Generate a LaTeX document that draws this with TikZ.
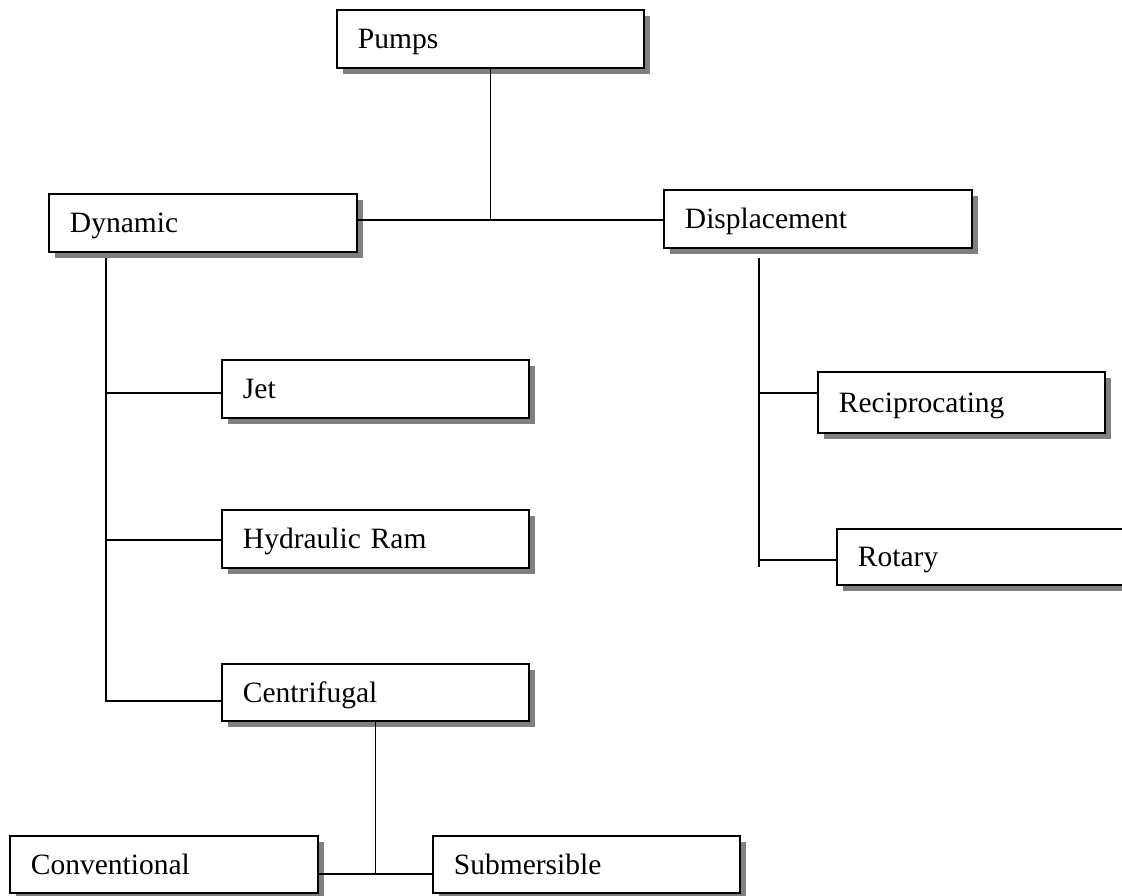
\documentclass[tikz,border=0pt]{standalone}
\usepackage{fontspec}
\setmainfont{Liberation Serif}
\usetikzlibrary{shadows}

\begin{document}
\begin{tikzpicture}[x=1pt, y=1pt,
  box/.style={draw, line width=1.9pt, fill=white, rectangle, anchor=north west,
    minimum height=58pt, inner xsep=21pt, inner ysep=0pt,
    text width=265pt, text height=22pt, text depth=2pt, align=left,
    font=\fontsize{29.5}{34}\selectfont,
    drop shadow={shadow xshift=6pt, shadow yshift=-6pt, fill=black!50, opacity=1}},
  link/.style={line width=1.9pt}]

\useasboundingbox (0,0) rectangle (1122,-895);

% boxes of the hierarchy
\node[box] (pumps) at (336,-9) {Pumps};
\node[box, text width=266pt] (dyn) at (48,-193) {Dynamic};
\node[box, text width=266pt] (disp) at (663,-189) {Displacement};
\node[box] (jet) at (221,-359) {Jet};
\node[box] (ram) at (221,-509) {Hydraulic Ram};
\node[box, minimum height=57pt] (cen) at (221,-663) {Centrifugal};
\node[box, text width=245pt, minimum height=61pt] (rec) at (817,-371) {Reciprocating};
\node[box, text width=258pt, minimum height=56pt] (rot) at (836,-528) {Rotary};
\node[box, text width=266pt, minimum height=57pt] (conv) at (9,-835) {Conventional};
\node[box, minimum height=57pt] (sub) at (432,-835) {Submersible};

% junction points of the connector lines
\coordinate (top) at (pumps.south |- 0,-220);
\coordinate (dtop) at (106,-258);
\coordinate (dj) at (106,-393);
\coordinate (dr) at (106,-540);
\coordinate (dc) at (106,-701);
\coordinate (ptop) at (759,-258);
\coordinate (pr) at (759,-393);
\coordinate (pt) at (759,-560);
\coordinate (pbot) at (759,-567);
\coordinate (cj) at (cen.south |- 0,-874);

% Pumps -> Dynamic / Displacement
\draw[link] (pumps.south) -- (top);
\draw[link] (dyn.east |- top) -- (disp.west |- top);

% Dynamic branch
\draw[link] (dtop) -- (dc) -- (dc -| cen.west);
\draw[link] (dj) -- (dj -| jet.west);
\draw[link] (dr) -- (dr -| ram.west);

% Displacement branch
\draw[link] (ptop) -- (pbot);
\draw[link] (pr) -- (pr -| rec.west);
\draw[link] (pt) -- (pt -| rot.west);

% Centrifugal branch
\draw[link] (cen.south) -- (cj);
\draw[link] (conv.east |- cj) -- (sub.west |- cj);

\end{tikzpicture}
\end{document}
